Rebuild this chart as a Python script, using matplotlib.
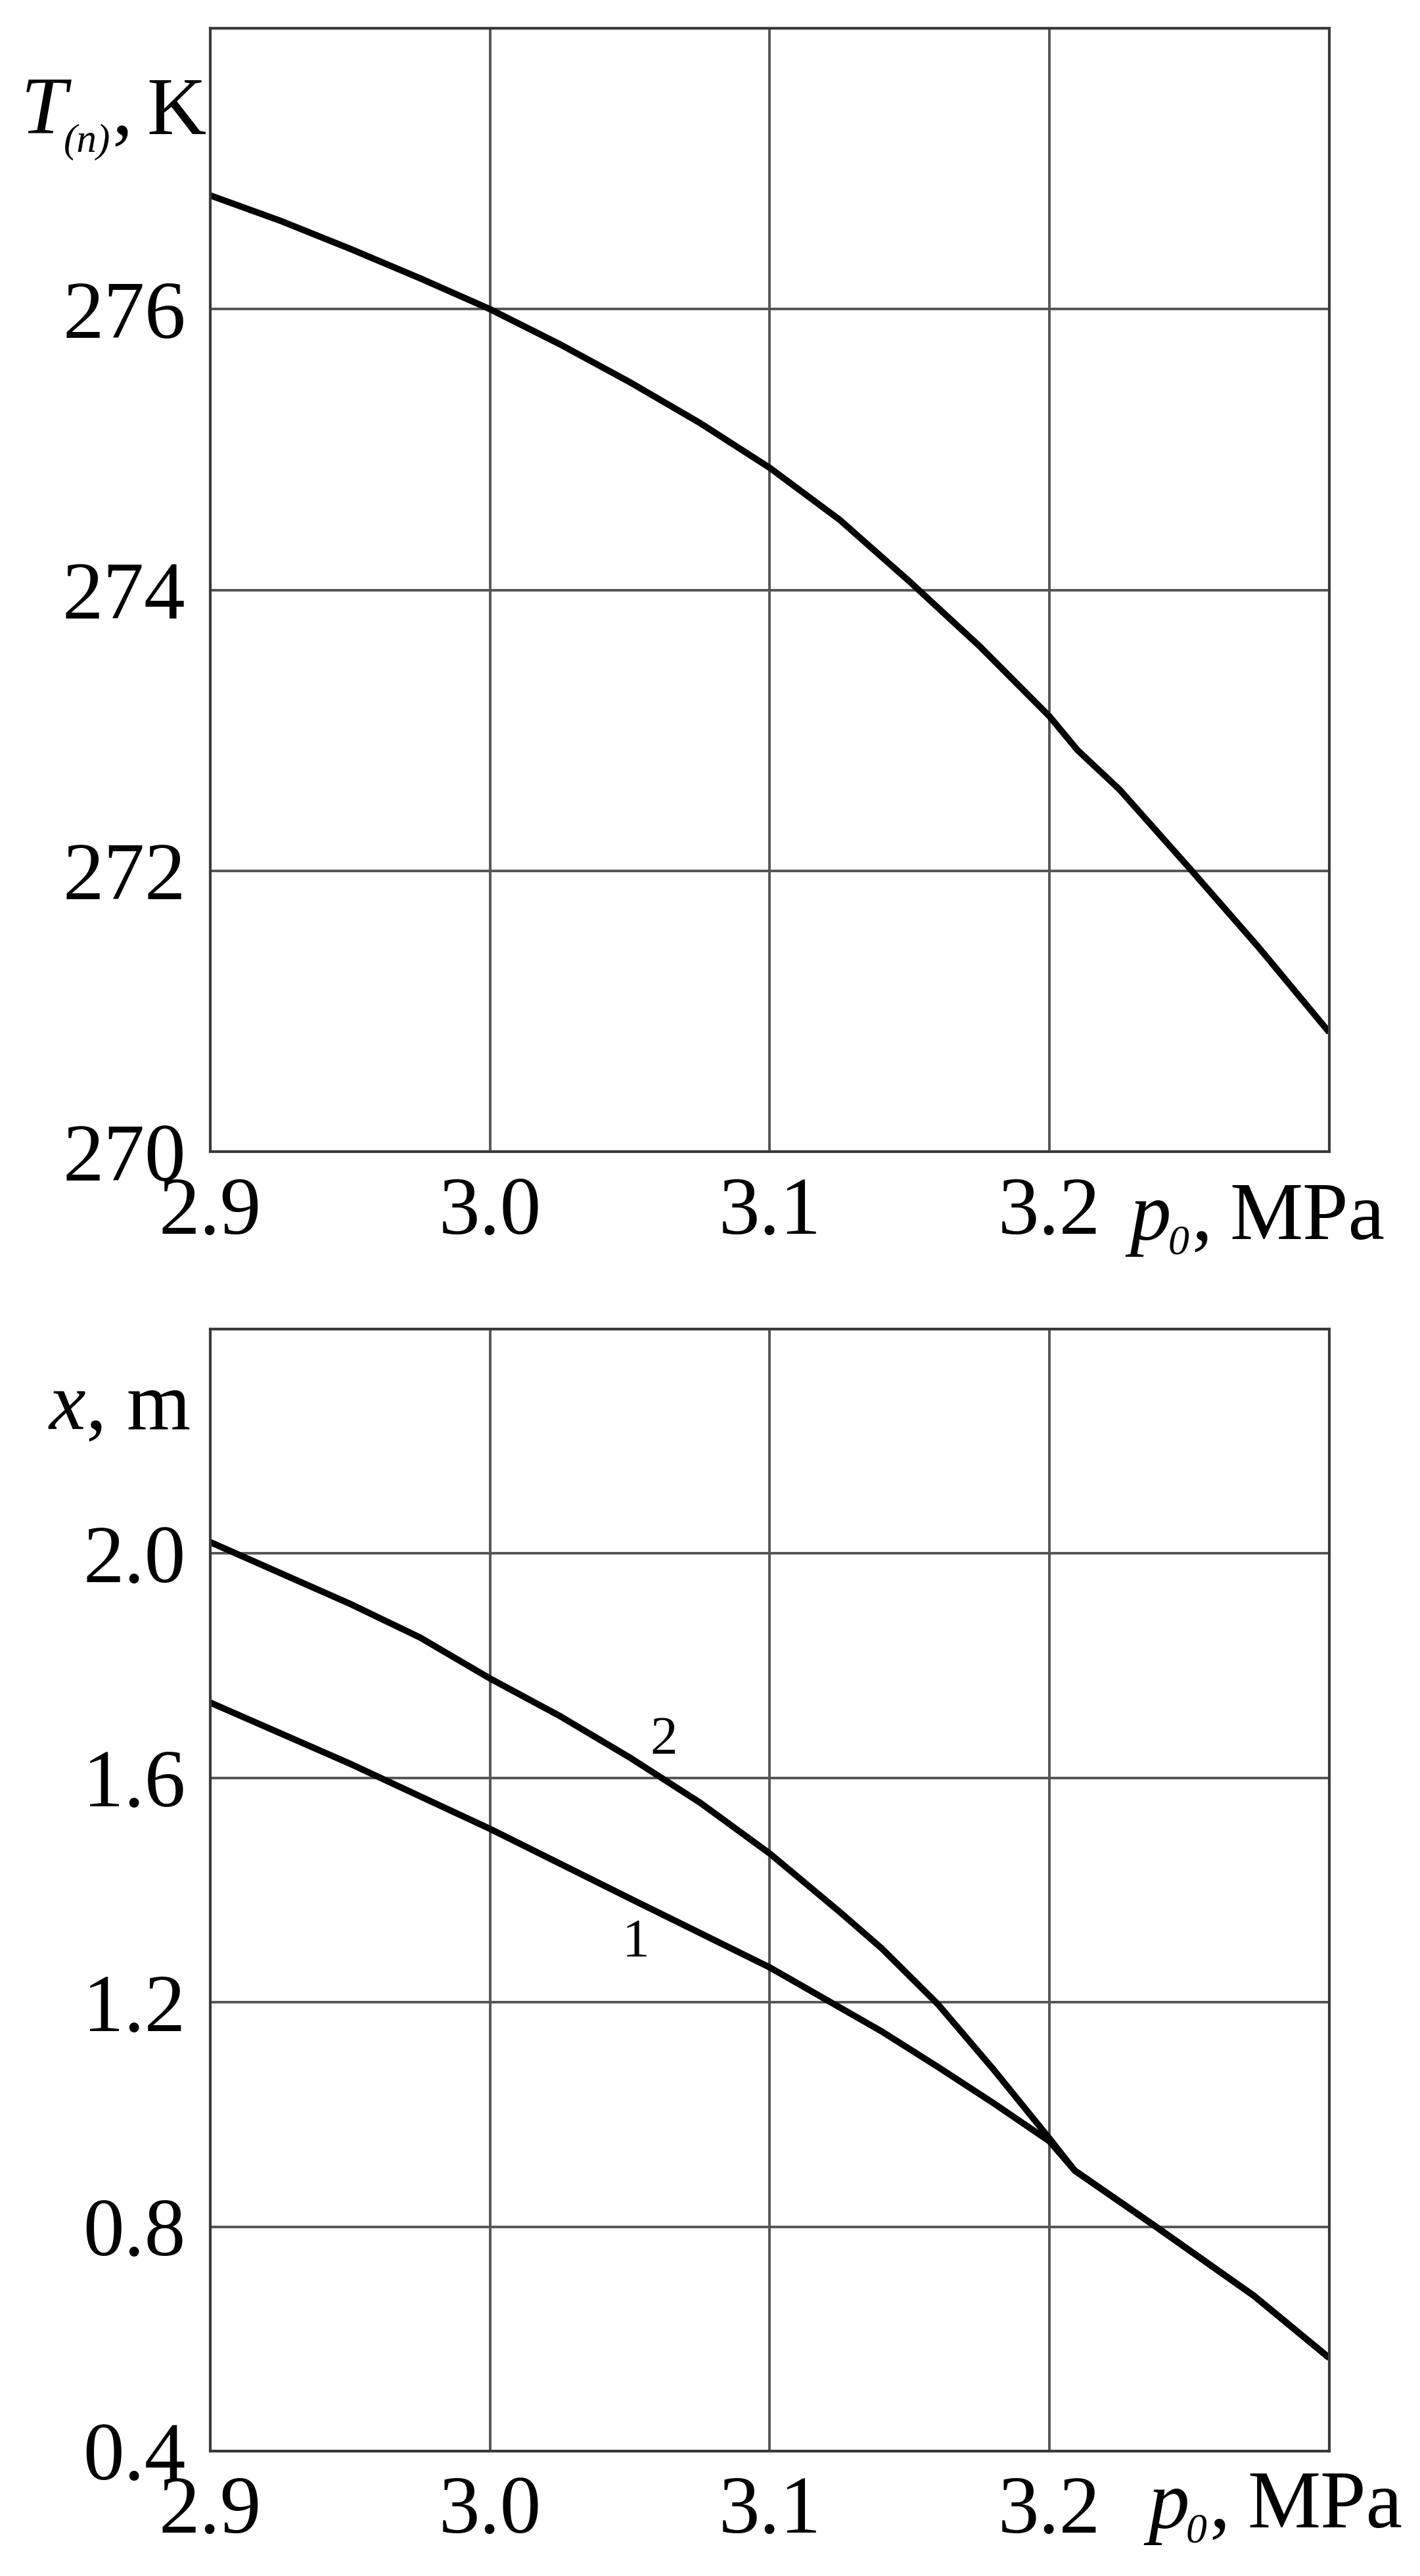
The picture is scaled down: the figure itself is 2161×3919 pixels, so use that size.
import numpy as np
import matplotlib.pyplot as plt

plt.rcParams['font.family'] = ['Liberation Serif', 'DejaVu Serif']
plt.rcParams['mathtext.fontset'] = 'custom'
plt.rcParams['mathtext.rm'] = 'Liberation Serif'
plt.rcParams['mathtext.it'] = 'Liberation Serif:italic'

# --- datos ---
# panel superior: T(n) frente a p0
p_T = [2.9, 2.925, 2.95, 2.975, 3.0, 3.025, 3.05, 3.075, 3.1, 3.125,
       3.15, 3.175, 3.2, 3.21, 3.225, 3.25, 3.275, 3.3]
T_n = [276.81, 276.63, 276.43, 276.22, 276.00, 275.75, 275.48, 275.19, 274.87, 274.50,
       274.06, 273.60, 273.10, 272.86, 272.58, 272.02, 271.45, 270.85]

# panel inferior: x frente a p0, curvas 1 y 2
p_1 = [2.9, 2.95, 3.0, 3.05, 3.1, 3.12, 3.14, 3.16, 3.18, 3.2, 3.209, 3.238, 3.273, 3.3]
x_1 = [1.734, 1.625, 1.509, 1.385, 1.262, 1.205, 1.148, 1.085, 1.02, 0.952, 0.90, 0.80, 0.677, 0.566]
p_2 = [2.9, 2.925, 2.95, 2.975, 3.0, 3.025, 3.05, 3.075, 3.1, 3.125, 3.14, 3.16, 3.18, 3.2,
       3.209, 3.238, 3.273, 3.3]
x_2 = [2.02, 1.965, 1.91, 1.85, 1.777, 1.71, 1.636, 1.556, 1.465, 1.361, 1.296, 1.197, 1.08, 0.957,
       0.90, 0.80, 0.677, 0.566]

curve_names = ['1', '2']
curve_label_p = [3.052, 3.062]
curve_label_x = [1.306, 1.666]

xticks = [2.9, 3.0, 3.1, 3.2, 3.3]
xticklabels = ['2.9', '3.0', '3.1', '3.2', '']
yticks_T = [270, 272, 274, 276, 278]
yticklabels_T = ['270', '272', '274', '276', '']
yticks_x = [0.4, 0.8, 1.2, 1.6, 2.0, 2.4]
yticklabels_x = ['0.4', '0.8', '1.2', '1.6', '2.0', '']

FS = 90

fig = plt.figure(figsize=(21.61, 39.19), dpi=100)
ax1 = fig.add_axes([0.1481, 0.5529, 0.788, 0.4361])
ax2 = fig.add_axes([0.1481, 0.0485, 0.788, 0.4356])


def preparar(ax, yt, ytl):
    ax.set_xlim(2.9, 3.3)
    ax.set_ylim(yt[0], yt[-1])
    ax.set_xticks(xticks)
    ax.set_xticklabels(xticklabels)
    ax.set_yticks(yt)
    ax.set_yticklabels(ytl)
    ax.tick_params(length=0, labelsize=FS)
    ax.tick_params(axis='x', pad=27)
    ax.tick_params(axis='y', pad=27)
    ax.grid(True, color='#555555', linewidth=2.8)
    ax.set_axisbelow(True)
    for s in ax.spines.values():
        s.set_linewidth(3.0)
        s.set_color('#3a3a3a')


def etiqueta_p0(ax, x0, yb):
    # p0, MPa armado por partes (p cursiva, subindice 0 pequeno)
    kw = dict(transform=ax.transAxes, va='baseline')
    ax.text(x0, yb, 'p', fontsize=FS, style='italic', ha='left', **kw)
    ax.text(x0 + 0.034, yb - 0.013, '0', fontsize=46, style='italic', ha='left', **kw)
    ax.text(x0 + 0.055, yb, ',', fontsize=FS, ha='left', **kw)
    ax.text(x0 + 0.2275, yb, 'MPa', fontsize=FS, ha='right', **kw)


preparar(ax1, yticks_T, yticklabels_T)
preparar(ax2, yticks_x, yticklabels_x)
etiqueta_p0(ax1, 0.822, -0.078)
etiqueta_p0(ax2, 0.838, -0.068)

# etiqueta del eje y superior: T con subindice (n) pequeno
ax1.text(-0.169, 0.906, 'T', fontsize=FS, style='italic', ha='left', va='baseline',
         transform=ax1.transAxes)
ax1.text(-0.131, 0.890, '(n)', fontsize=44, style='italic', ha='left', va='baseline',
         transform=ax1.transAxes)
ax1.text(-0.088, 0.906, ',', fontsize=FS, ha='left', va='baseline',
         transform=ax1.transAxes)
ax1.text(-0.004, 0.906, 'K', fontsize=FS, ha='right', va='baseline',
         transform=ax1.transAxes)

ax2.set_ylabel('$x$, m', fontsize=FS, rotation=0, ha='right', va='baseline')
ax2.yaxis.set_label_coords(-0.0176, 0.911)

ax1.plot(p_T, T_n, color='black', linewidth=7, solid_joinstyle='round', solid_capstyle='butt')
ax2.plot(p_1, x_1, color='black', linewidth=7, solid_joinstyle='round', solid_capstyle='butt')
ax2.plot(p_2, x_2, color='black', linewidth=7, solid_joinstyle='round', solid_capstyle='butt')

for nombre, px, xx in zip(curve_names, curve_label_p, curve_label_x):
    ax2.text(px, xx, nombre, fontsize=60, ha='center', va='center')

fig.savefig('out.png', dpi=100)
